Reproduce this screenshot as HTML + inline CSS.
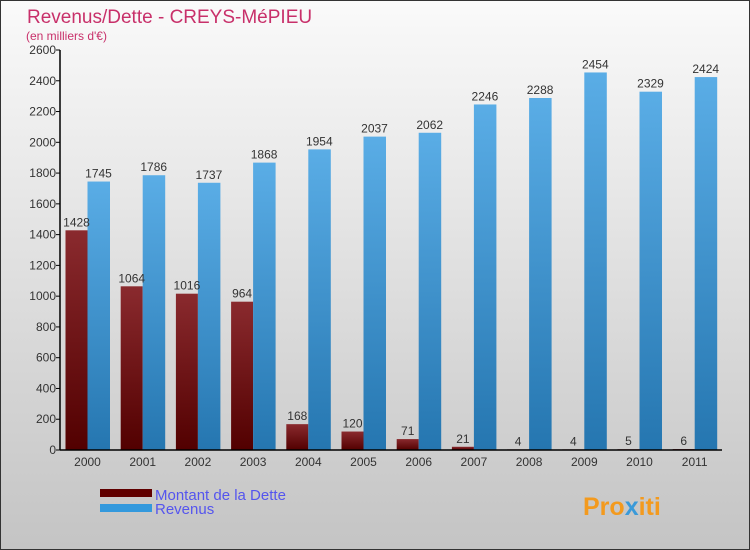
<!DOCTYPE html>
<html><head><meta charset="utf-8"><style>
body{margin:0}
#c{width:750px;height:550px;position:relative;overflow:hidden;font-family:"Liberation Sans",sans-serif}
</style></head><body>
<div id="c">
<svg id="s" width="750" height="550" xmlns="http://www.w3.org/2000/svg">
<defs>
<linearGradient id="bg" x1="0" y1="0" x2="0" y2="1"><stop offset="0" stop-color="#fafafa"/><stop offset="1" stop-color="#c4c4c4"/></linearGradient>
<linearGradient id="gd" x1="0" y1="0" x2="0" y2="1"><stop offset="0" stop-color="#8a2a2e"/><stop offset="1" stop-color="#520000"/></linearGradient>
<linearGradient id="gr" x1="0" y1="0" x2="0" y2="1"><stop offset="0" stop-color="#5aade6"/><stop offset="1" stop-color="#2576b0"/></linearGradient>
</defs>
<rect x="0.5" y="0.5" width="749" height="549" fill="url(#bg)" stroke="#333"/>
<text x="27" y="23" font-size="19" fill="#c8306a">Revenus/Dette - CREYS-MéPIEU</text>
<text x="26" y="40" font-size="12" fill="#c8306a">(en milliers d'€)</text>
<g id="plot"></g>
<rect x="100" y="489" width="52" height="8" fill="#600000"/>
<rect x="100" y="504" width="52" height="8" fill="#3399dd"/>
<text x="155" y="500" font-size="15" fill="#5555ee">Montant de la Dette</text>
<text x="155" y="514" font-size="15" fill="#5555ee">Revenus</text>
<text x="583" y="515" font-size="25" font-weight="bold" fill="#f39a1e">Pro<tspan fill="#3a9ad9">x</tspan>iti</text>
</svg>
</div>
<script>
const years=["2000","2001","2002","2003","2004","2005","2006","2007","2008","2009","2010","2011"];
const dette=[1428,1064,1016,964,168,120,71,21,4,4,5,6];
const revenus=[1745,1786,1737,1868,1954,2037,2062,2246,2288,2454,2329,2424];
const yTicks=[0,200,400,600,800,1000,1200,1400,1600,1800,2000,2200,2400,2600];
const NS="http://www.w3.org/2000/svg";
const g=document.getElementById('plot');
const y=v=>450-v*400/2600;
const xc=i=>87.5+i*55.2;
function mk(t,a,txt){const e=document.createElementNS(NS,t);for(const k in a)e.setAttribute(k,a[k]);if(txt!==undefined)e.textContent=txt;g.appendChild(e);return e;}
years.forEach((yr,i)=>{
 let r=mk('rect',{x:xc(i)-22,y:y(dette[i]),width:22,height:450-y(dette[i]),fill:'url(#gd)'});
 
 
 r=mk('rect',{x:xc(i),y:y(revenus[i]),width:22.5,height:450-y(revenus[i]),fill:'url(#gr)'});
 
 
 let t=mk('text',{x:xc(i)-11,y:y(dette[i])-4,'font-size':12,fill:'#333','text-anchor':'middle'},String(dette[i]));
 
 
 t=mk('text',{x:xc(i)+11,y:y(revenus[i])-4,'font-size':12,fill:'#333','text-anchor':'middle'},String(revenus[i]));
 
 
 t=mk('text',{x:xc(i),y:466,'font-size':12,fill:'#333','text-anchor':'middle'},yr);
 
 
});
yTicks.forEach(v=>{
 const l=mk('line',{x1:56,x2:60,y1:y(v),y2:y(v),stroke:'#000'});
 
 
 const t=mk('text',{x:56,y:y(v)+4,'font-size':12,fill:'#333','text-anchor':'end'},String(v));
 
 
});
let a=mk('line',{x1:60,x2:60,y1:50,y2:450,stroke:'#000','stroke-width':1.5});


a=mk('line',{x1:60,x2:722,y1:450,y2:450,stroke:'#000','stroke-width':1.5});


</script>
</body></html>
